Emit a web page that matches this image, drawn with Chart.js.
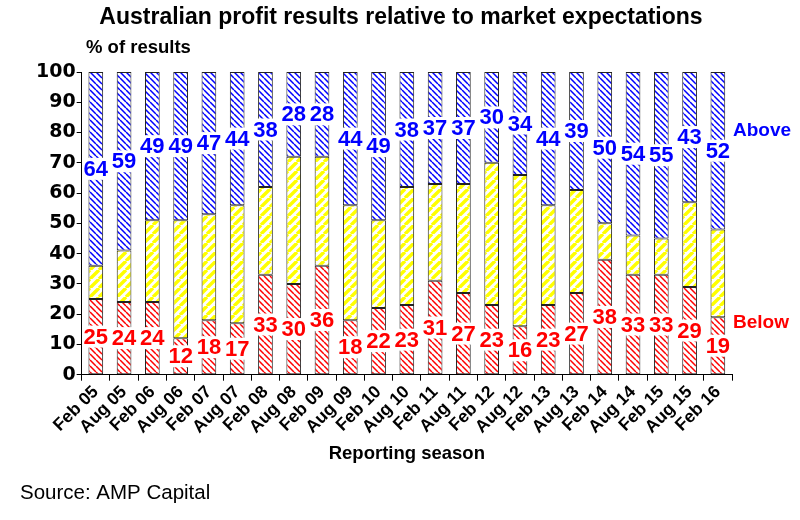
<!DOCTYPE html>
<html>
<head>
<meta charset="utf-8">
<script src="https://cdn.jsdelivr.net/npm/chart.js@4.4.1/dist/chart.umd.min.js"></script>
<style>
  body { margin: 0; background: #fff; }
  #wrap { width: 800px; height: 520px; }
</style>
</head>
<body>
<div id="wrap"><canvas id="grafico"></canvas></div>
<script>
const temporadas = ["Feb 05", "Aug 05", "Feb 06", "Aug 06", "Feb 07", "Aug 07", "Feb 08", "Aug 08",
  "Feb 09", "Aug 09", "Feb 10", "Aug 10", "Feb 11", "Aug 11", "Feb 12", "Aug 12", "Feb 13", "Aug 13",
  "Feb 14", "Aug 14", "Feb 15", "Aug 15", "Feb 16"];
const debajo = [25, 24, 24, 12, 18, 17, 33, 30, 36, 18, 22, 23, 31, 27, 23, 16, 23, 27, 38, 33, 33, 29, 19];
const encima = [64, 59, 49, 49, 47, 44, 38, 28, 28, 44, 49, 38, 37, 37, 30, 34, 44, 39, 50, 54, 55, 43, 52];
// el resto hasta 100 = en linea con expectativas
const enLinea = temporadas.map((_, i) => 100 - debajo[i] - encima[i]);
const yTicks = [0, 10, 20, 30, 40, 50, 60, 70, 80, 90, 100];

const FUENTE = "'Liberation Sans', Arial, sans-serif";

// rayado tipo patron
function rayado(color, size, dir, lw) {
  const c = document.createElement("canvas");
  c.width = size; c.height = size;
  const g = c.getContext("2d");
  g.fillStyle = "#fff";
  g.fillRect(0, 0, size, size);
  g.strokeStyle = color;
  g.lineWidth = lw;
  g.beginPath();
  for (const o of [-size, 0, size]) {
    if (dir === "\\") { g.moveTo(o, 0); g.lineTo(o + size, size); }
    else { g.moveTo(o, size); g.lineTo(o + size, 0); }
  }
  g.stroke();
  return g.createPattern(c, "repeat");
}

const azul = rayado("#0000ff", 6, "\\", 1.5);
const rojo = rayado("#ff0000", 6, "\\", 1.5);
const amarillo = rayado("#ffff00", 9, "/", 3.4);

// etiquetas con fondo blanco en el centro de cada tramo
const etiquetas = {
  id: "etiquetas",
  afterDatasetsDraw(chart) {
    const ctx = chart.ctx;
    ctx.save();
    ctx.font = "bold 22px " + FUENTE;
    ctx.textAlign = "center";
    ctx.textBaseline = "middle";
    [[0, debajo, "#ff0000"], [2, encima, "#0000ff"]].forEach(([idx, vals, col]) => {
      chart.getDatasetMeta(idx).data.forEach((bar, i) => {
        const txt = String(vals[i]);
        const y = (bar.y + bar.base) / 2;
        const w = ctx.measureText(txt).width;
        ctx.fillStyle = "#fff";
        ctx.fillRect(bar.x - w / 2 - 1, y - 11, w + 2, 22);
        ctx.fillStyle = col;
        ctx.fillText(txt, bar.x, y + 1);
      });
    });
    ctx.restore();
  }
};

// textos sueltos
const textos = {
  id: "textos",
  afterDraw(chart) {
    const ctx = chart.ctx;
    const y = chart.scales.y;
    ctx.save();
    ctx.textBaseline = "middle";
    ctx.textAlign = "center";
    ctx.fillStyle = "#000";
    ctx.font = "bold 23px " + FUENTE;
    ctx.fillText("Australian profit results relative to market expectations", 401, 18);
    ctx.textAlign = "left";
    ctx.font = "bold 18.5px " + FUENTE;
    ctx.fillText("% of results", 86, 48);
    ctx.font = "bold 19px " + FUENTE;
    ctx.fillStyle = "#0000ff";
    ctx.fillText("Above", 733, y.getPixelForValue(80.5));
    ctx.fillStyle = "#ff0000";
    ctx.fillText("Below", 733, y.getPixelForValue(17));
    ctx.fillStyle = "#000";
    ctx.font = "20.5px " + FUENTE;
    ctx.fillText("Source: AMP Capital", 20, 493);
    ctx.restore();
  }
};

const comun = { borderColor: "#222", borderWidth: 1, borderSkipped: false, barPercentage: 0.52, categoryPercentage: 1 };

new Chart(document.getElementById("grafico"), {
  type: "bar",
  data: {
    labels: temporadas,
    datasets: [
      { label: "Below", data: debajo, backgroundColor: rojo, ...comun },
      { label: "In line", data: enLinea, backgroundColor: amarillo, ...comun },
      { label: "Above", data: encima, backgroundColor: azul, ...comun }
    ]
  },
  options: {
    responsive: true,
    maintainAspectRatio: false,
    animation: false,
    layout: { padding: { top: 72, left: 35, right: 68, bottom: 51 } },
    plugins: { legend: { display: false }, tooltip: { enabled: false } },
    scales: {
      x: {
        stacked: true,
        grid: { drawOnChartArea: false, tickLength: 6, color: "#000", offset: true },
        border: { color: "#000", width: 1 },
        ticks: { color: "#000", autoSkip: false, font: { family: FUENTE, weight: "bold", size: 17.5 }, maxRotation: 45, minRotation: 45, padding: 1 },
        title: { display: true, text: "Reporting season", color: "#000", font: { family: FUENTE, weight: "bold", size: 18.5 }, padding: { top: 4 } }
      },
      y: {
        stacked: true,
        min: 0, max: 100,
        afterBuildTicks(ax) { ax.ticks = yTicks.map(v => ({ value: v })); },
        grid: { drawOnChartArea: false, tickLength: 5, color: "#000" },
        border: { color: "#000", width: 1 },
        ticks: { color: "#000", font: { family: "'DejaVu Sans', sans-serif", weight: "bold", size: 19 }, padding: 1 }
      }
    }
  },
  plugins: [etiquetas, textos]
});
</script>
</body>
</html>
